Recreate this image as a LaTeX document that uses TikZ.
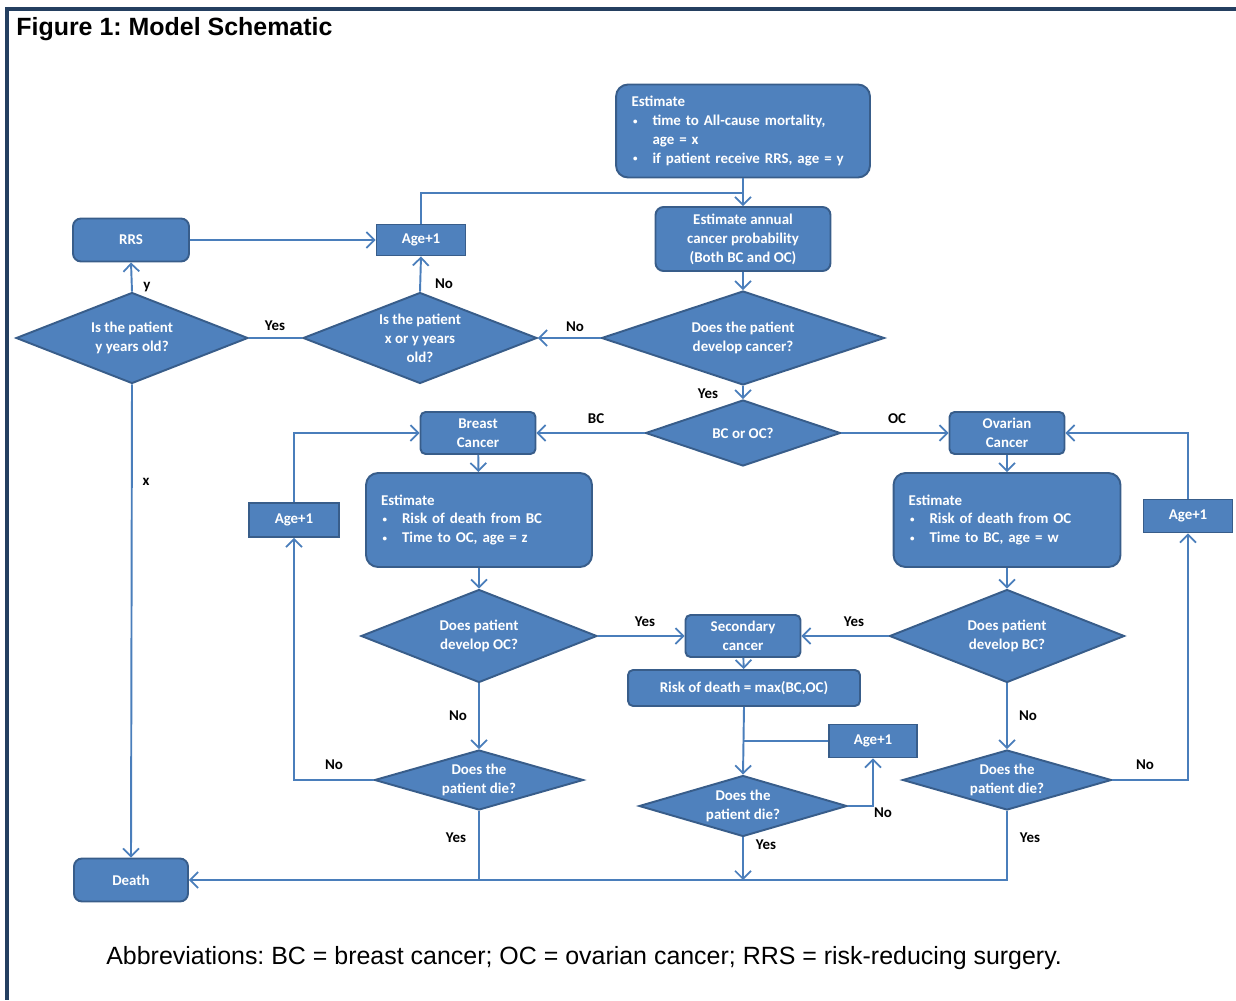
\documentclass[tikz,border=0pt]{standalone}
\usepackage{fontspec}
\setmainfont{Carlito}
\newfontfamily\arialfont{Liberation Sans}
\usepackage{tikz}
\usetikzlibrary{positioning}
\usetikzlibrary{arrows.meta, shapes.geometric}
\usepackage{xcolor}
\frenchspacing
\definecolor{boxfill}{HTML}{4F81BD}
\definecolor{boxline}{HTML}{385D8A}
\definecolor{connline}{HTML}{4A7EBB}
\definecolor{frameline}{HTML}{243F60}
\newcommand{\bul}{\makebox[0.42cm][l]{\hspace{0.03cm}\raisebox{0.2ex}{\scalebox{0.6}{\textbullet}}}}

\begin{document}
\begin{tikzpicture}[x=0.02cm, y=-0.02cm,
  main/.style = {draw=boxline, fill=boxfill, line width=1.1pt, rounded corners=0.16cm, text=white,
                 font=\fontsize{8.5}{10.8}\selectfont\bfseries, align=center, inner sep=0pt},
  sq/.style = {main, rounded corners=0pt},
  dia/.style = {main, diamond, rounded corners=0pt},
  lab/.style = {font=\fontsize{8.5}{10.8}\selectfont\bfseries, inner sep=0pt},
  conn/.style = {draw=connline, line width=1.1pt},
  >={Straight Barb[length=4.5pt, width=9pt, line width=1pt]}]
\useasboundingbox (0,0) rectangle (1236,1000);
% frame
\draw[frameline, line width=0.09cm] (5,9) -- (1236,9);
\draw[frameline, line width=0.09cm] (7,7) -- (7,1000);
\node[anchor=west, inner sep=0pt, font={\arialfont\bfseries\fontsize{14.2}{17}\selectfont}] (title) at (16,29) {Figure 1: Model Schematic};

% top part
\node[main, rounded corners=0.24cm, text width=4.46cm, align=left, inner xsep=0.31cm, minimum height=1.86cm] (est) at (743,131)
  {Estimate\\ \bul time to All-cause mortality,\\ \hspace*{0.42cm}age = x\\ \bul if patient receive RRS, age = y};
\node[main, minimum width=3.5cm, minimum height=1.28cm] (est2) at (743,239) {Estimate annual\\ cancer probability\\ (Both BC and OC)};
\node[main, minimum width=2.32cm, minimum height=0.86cm] (rrs) at (131,240) {RRS};
\node[sq, minimum width=1.78cm, minimum height=0.62cm] (age1) at (421,240) {Age+1};
\node[dia, minimum width=4.64cm, minimum height=1.82cm, aspect=2.55] (dy) at (132,338) {Is the patient\\ y years old?};
\node[dia, minimum width=4.68cm, minimum height=1.82cm, aspect=2.57] (dxy) at (420,338) {Is the patient\\ x or y years\\ old?};
\node[dia, minimum width=5.66cm, minimum height=1.88cm, aspect=3] (dcan) at (743,338) {Does the patient\\ develop cancer?};
\node[dia, minimum width=3.9cm, minimum height=1.32cm, aspect=2.95] (bcoc) at (743,433) {BC or OC?};

% breast cancer branch
\node[main, rounded corners=0.1cm, minimum width=2.3cm, minimum height=0.84cm] (bc) at (478,433) {Breast\\ Cancer};
\node[main, rounded corners=0.24cm, text width=3.92cm, align=left, inner xsep=0.3cm, minimum height=1.88cm] (estbc) at (479,520)
  {Estimate\\ \bul Risk of death from BC\\ \bul Time to OC, age = z};
\node[sq, minimum width=1.8cm, minimum height=0.68cm] (ageL) at (294,520) {Age+1};
\node[dia, minimum width=4.72cm, minimum height=1.86cm, aspect=2.54] (devoc) at (479,636) {Does patient\\ develop OC?};
\node[dia, minimum width=4.18cm, minimum height=1.2cm, aspect=3.48] (dieL) at (479,780) {Does the\\ patient die?};

% ovarian cancer branch
\node[main, rounded corners=0.1cm, minimum width=2.3cm, minimum height=0.84cm] (oc) at (1007,433) {Ovarian\\ Cancer};
\node[main, rounded corners=0.24cm, text width=3.94cm, align=left, inner xsep=0.3cm, minimum height=1.88cm] (estoc) at (1007,520)
  {Estimate\\ \bul Risk of death from OC\\ \bul Time to BC, age = w};
\node[sq, minimum width=1.78cm, minimum height=0.66cm] (ageR) at (1188,516) {Age+1};
\node[dia, minimum width=4.7cm, minimum height=1.86cm, aspect=2.53] (devbc) at (1007,636) {Does patient\\ develop BC?};
\node[dia, minimum width=4.18cm, minimum height=1.2cm, aspect=3.48] (dieR) at (1007,780) {Does the\\ patient die?};

% secondary cancer
\node[main, rounded corners=0.1cm, minimum width=2.3cm, minimum height=0.84cm] (sec) at (743,636) {Secondary\\ cancer};
\node[main, rounded corners=0.1cm, minimum width=4.64cm, minimum height=0.72cm] (risk) at (744,688) {Risk of death = max(BC,OC)};
\node[sq, minimum width=1.76cm, minimum height=0.66cm] (ageM) at (873,741) {Age+1};
\node[dia, minimum width=4.16cm, minimum height=1.22cm, aspect=3.41] (dieM) at (743,806) {Does the\\ patient die?};

\node[main, minimum width=2.28cm, minimum height=0.86cm] (death) at (131,880) {Death};

% connectors
\coordinate (j1) at (743,193);
\draw[conn,->] (est.south) -- (est2.north);
\draw[conn] (age1.north) |- (j1);
\draw[conn,->] (rrs.east) -- (age1.west);
\draw[conn,->] (est2.south) -- (dcan.north);
\draw[conn,->] (dcan.west) -- (dxy.east);
\draw[conn,->] (dxy.north) -- (age1.south);
\draw[conn] (dxy.west) -- (dy.east);
\draw[conn,->] (dy.north) -- (rrs.south);
\draw[conn,->] (dy.south) -- (death.north);
\draw[conn,->] (dcan.south) -- (bcoc.north);
\draw[conn,->] (bcoc.west) -- (bc.east);
\draw[conn,->] (bcoc.east) -- (oc.west);
\draw[conn,->] (bc) -- (estbc);
\draw[conn,->] (oc) -- (estoc);
\draw[conn,->] (estbc) -- (devoc);
\draw[conn,->] (estoc) -- (devbc);
\draw[conn,->] (devoc.east) -- (sec.west);
\draw[conn,->] (devbc.west) -- (sec.east);
\draw[conn,->] (sec) -- (risk);
\draw[conn,->] (devoc) -- (dieL);
\draw[conn,->] (devbc) -- (dieR);
\draw[conn,->] (dieL.west) -| (ageL.south);
\draw[conn,->] (ageL.north) |- (bc.west);
\draw[conn,->] (dieR.east) -| (ageR.south);
\draw[conn,->] (ageR.north) |- (oc.east);
\draw[conn,->] (risk.south) -- (dieM.north);
\draw[conn] (ageM.west) -- (ageM.west -| risk.south);
\draw[conn,->] (dieM.east) -| (ageM.south);
\draw[conn] (dieL.south) -- (dieL.south |- death.east);
\draw[conn,->] (dieM.south) -- (dieM.south |- death.east);
\draw[conn,->] (dieR.south) |- (death.east);

% labels
\node[lab] (l1) at (575,327) {No};
\node[lab] (l2) at (444,284) {No};
\node[lab] (l3) at (275,326) {Yes};
\node[lab] (l4) at (147,287) {y};
\node[lab] (l5) at (146,482) {x};
\node[lab] (l6) at (708,394) {Yes};
\node[lab] (l7) at (596,419) {BC};
\node[lab] (l8) at (897,419) {OC};
\node[lab] (l9) at (645,622) {Yes};
\node[lab] (l10) at (854,622) {Yes};
\node[lab] (l11) at (458,716) {No};
\node[lab] (l12) at (1028,716) {No};
\node[lab] (l13) at (334,765) {No};
\node[lab] (l14) at (1145,765) {No};
\node[lab] (l15) at (883,813) {No};
\node[lab] (l16) at (456,838) {Yes};
\node[lab] (l17) at (766,845) {Yes};
\node[lab] (l18) at (1030,838) {Yes};

\node[anchor=west, inner sep=0pt, font={\arialfont\fontsize{14.2}{17}\selectfont}] (abbr) at (106,958)
  {Abbreviations: BC = breast cancer; OC = ovarian cancer; RRS = risk-reducing surgery.};
\end{tikzpicture}
\end{document}
